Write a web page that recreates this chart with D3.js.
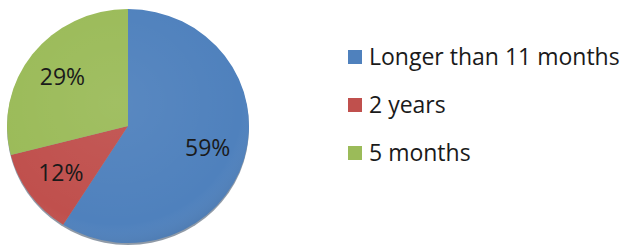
<!DOCTYPE html>
<html>
<head>
<meta charset="utf-8">
<script src="https://cdn.jsdelivr.net/npm/d3@7"></script>
<style>
  body { margin: 0; background: #fff; }
  svg { display: block; }
</style>
</head>
<body>
<div class="chart"></div>
<script>
var categories = ["Longer than 11 months", "2 years", "5 months"];
var values = [59, 12, 29];
var colors = ["#4f81bd", "#c0504d", "#9bbb59"];

var width = 622, height = 248;
var cx = 128, cy = 126, rx = 121, ry = 117;

var svg = d3.select(".chart")
    .append("svg")
    .attr("width", width)
    .attr("height", height);

var defs = svg.append("defs");
var shade = defs.append("radialGradient")
    .attr("id", "shade")
    .attr("cx", "45%").attr("cy", "40%").attr("r", "65%");
shade.append("stop").attr("offset", "0%").attr("stop-color", "#fff").attr("stop-opacity", 0.06);
shade.append("stop").attr("offset", "80%").attr("stop-color", "#fff").attr("stop-opacity", 0);
shade.append("stop").attr("offset", "100%").attr("stop-color", "#000").attr("stop-opacity", 0.12);

var pie = d3.pie().sort(null).value(d => d);
var arcs = pie(values);
var arc = d3.arc().innerRadius(0).outerRadius(rx);
var labelArc = d3.arc().innerRadius(83).outerRadius(83);

var g = svg.append("g")
    .attr("transform", `translate(${cx},${cy}) scale(1,${ry / rx})`);

// soft shadow under the bottom edge
g.append("ellipse")
    .attr("cx", 0).attr("cy", 2)
    .attr("rx", rx).attr("ry", rx)
    .style("fill", "#1f3550")
    .style("opacity", 0.5);

g.selectAll("path.slice")
    .data(arcs)
    .join("path")
    .attr("class", "slice")
    .attr("d", arc)
    .style("fill", (d, i) => colors[i]);

g.append("circle")
    .attr("r", rx)
    .style("fill", "url(#shade)");

var labels = svg.append("g")
    .attr("transform", `translate(${cx},${cy})`);

labels.selectAll("text")
    .data(arcs)
    .join("text")
    .attr("x", d => labelArc.centroid(d)[0])
    .attr("y", d => labelArc.centroid(d)[1] * ry / rx)
    .attr("dy", "0.35em")
    .style("text-anchor", "middle")
    .style("font-family", "'Open Sans', sans-serif")
    .style("font-size", "23px")
    .style("fill", "#1a1a1a")
    .text(d => d.data + "%");

var legend = svg.append("g")
    .attr("transform", "translate(348,0)");

var rowY = [57, 105, 153];

var item = legend.selectAll("g")
    .data(categories)
    .join("g")
    .attr("transform", (d, i) => `translate(0,${rowY[i]})`);

item.append("rect")
    .attr("x", 0).attr("y", -7)
    .attr("width", 14).attr("height", 14)
    .style("fill", (d, i) => colors[i]);

item.append("text")
    .attr("x", 21)
    .attr("dy", "0.35em")
    .style("font-family", "'Open Sans', sans-serif")
    .style("font-size", "23px")
    .style("fill", "#1a1a1a")
    .text(d => d);
</script>
</body>
</html>
